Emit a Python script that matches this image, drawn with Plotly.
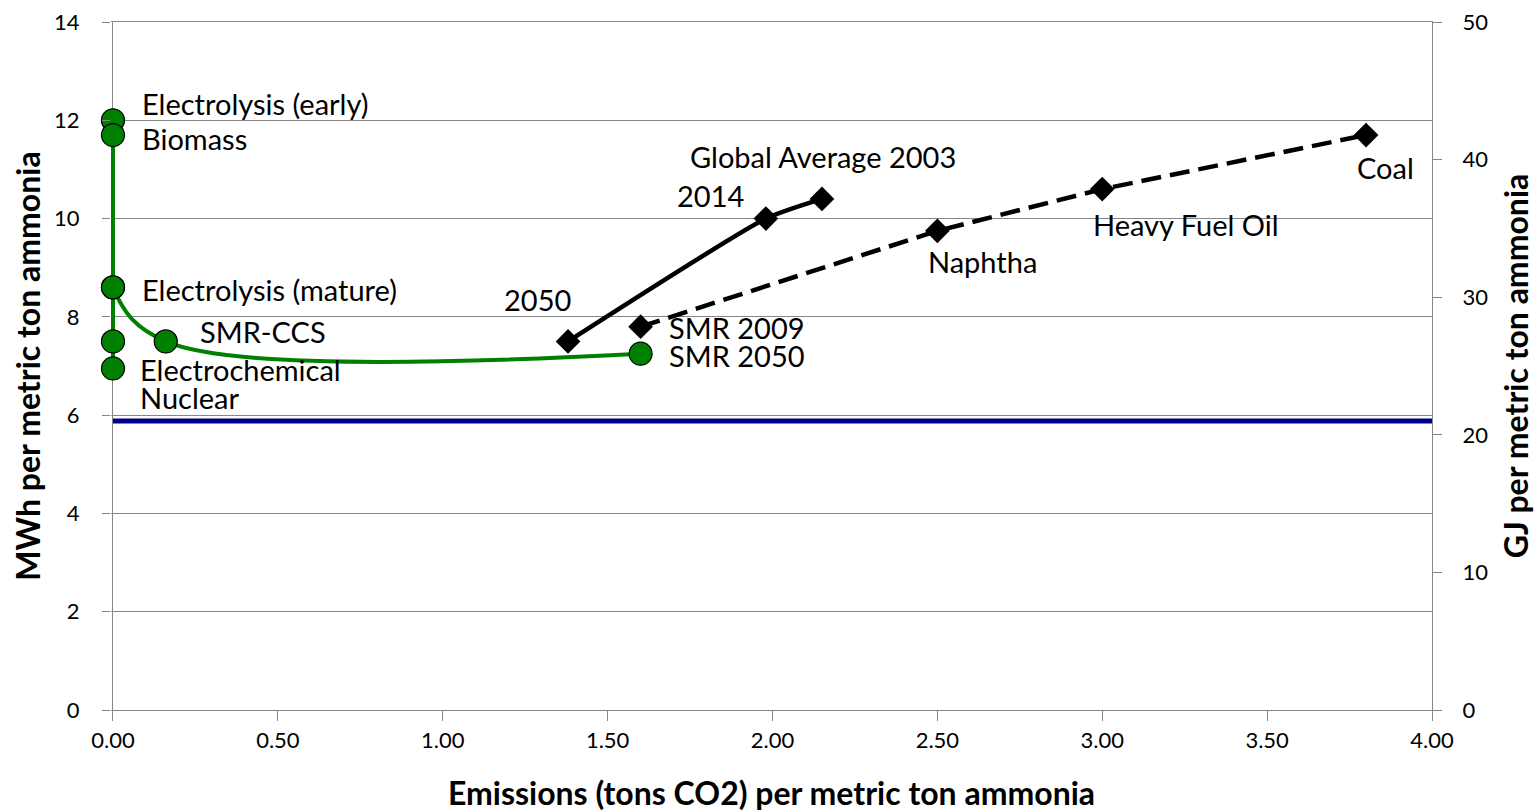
import plotly.graph_objects as go

FONT = "Lato"

# Green series (low-carbon routes), smoothed curve
green_x = [0.0, 0.0, 0.0, 0.16, 1.60]
green_y = [12.0, 11.7, 8.6, 7.5, 7.25]
green_labels = ["Electrolysis (early)", "Biomass", "Electrolysis (mature)", "SMR-CCS", "SMR 2050"]
# Green series at zero emissions, straight segments
zero_x = [0.0, 0.0, 0.0]
zero_y = [8.6, 7.5, 6.95]
zero_labels = ["", "Electrochemical", "Nuclear"]

# Black solid series (global average over time)
avg_x = [1.38, 1.98, 2.15]
avg_y = [7.5, 10.0, 10.4]
avg_labels = ["2050", "2014", "Global Average 2003"]

# Black dashed series (by feedstock)
feed_x = [1.60, 2.50, 3.00, 3.80]
feed_y = [7.8, 9.75, 10.6, 11.7]
feed_labels = ["SMR 2009", "Naphtha", "Heavy Fuel Oil", "Coal"]

# Theoretical minimum (GJ per ton)
min_x = [0.0, 4.0]
min_gj = [21.0, 21.0]

x_ticks = [0, 0.5, 1.0, 1.5, 2.0, 2.5, 3.0, 3.5, 4.0]
y_ticks = [0, 2, 4, 6, 8, 10, 12, 14]
y2_ticks = [0, 10, 20, 30, 40, 50]

GREEN = "#008000"
AXIS = "#868686"
fig = go.Figure()

fig.add_trace(go.Scatter(x=min_x, y=min_gj, yaxis="y2", mode="lines",
                         line=dict(color="#000090", width=5), hoverinfo="skip"))
# smoothed green curve (line only)
fig.add_trace(go.Scatter(x=green_x[1:], y=green_y[1:], mode="lines",
                         line=dict(color=GREEN, width=4, shape="spline", smoothing=1.0)))
# straight part of the green curve along zero emissions
fig.add_trace(go.Scatter(x=green_x[:3], y=green_y[:3], mode="lines",
                         line=dict(color=GREEN, width=4)))
fig.add_trace(go.Scatter(x=zero_x, y=zero_y, mode="lines+markers", cliponaxis=False,
                         line=dict(color=GREEN, width=4),
                         marker=dict(symbol="circle", size=23, color=GREEN,
                                     line=dict(color="#000000", width=1.2))))
fig.add_trace(go.Scatter(x=green_x, y=green_y, mode="markers", cliponaxis=False,
                         marker=dict(symbol="circle", size=23, color=GREEN,
                                     line=dict(color="#000000", width=1.2))))
fig.add_trace(go.Scatter(x=feed_x, y=feed_y, mode="lines+markers", cliponaxis=False,
                         line=dict(color="#000000", width=4.5, dash="20px,9px"),
                         marker=dict(symbol="diamond", size=19, color="#000000")))
fig.add_trace(go.Scatter(x=avg_x, y=avg_y, mode="lines+markers", cliponaxis=False,
                         line=dict(color="#000000", width=4.5, shape="spline", smoothing=0.55),
                         marker=dict(symbol="diamond", size=19, color="#000000")))

# label offsets (pixels): (xanchor, xshift, yshift)
offsets = {
    "Electrolysis (early)": ("left", 27, 17),
    "Biomass": ("left", 27, -3),
    "Electrolysis (mature)": ("left", 27, -2),
    "SMR-CCS": ("left", 32, 10),
    "SMR 2050": ("left", 26, -2),
    "Electrochemical": ("left", 25, -28),
    "Nuclear": ("left", 25, -29),
    "2050": ("right", 5, 42),
    "2014": ("right", -20, 23),
    "Global Average 2003": ("center", 1, 42),
    "SMR 2009": ("left", 26, -1),
    "Naphtha": ("left", -11, -31),
    "Heavy Fuel Oil": ("left", -11, -35),
    "Coal": ("left", -11, -32),
}

annotations = []
for xs, ys, labs in [(green_x, green_y, green_labels),
                     (zero_x, zero_y, zero_labels),
                     (avg_x, avg_y, avg_labels),
                     (feed_x, feed_y, feed_labels)]:
    for x, y, lab in zip(xs, ys, labs):
        if not lab:
            continue
        xa, dx, dy = offsets[lab]
        annotations.append(dict(x=x, y=y, xref="x", yref="y", text=lab, showarrow=False,
                                xanchor=xa, yanchor="middle", xshift=dx, yshift=dy,
                                font=dict(family=FONT, size=29, color="#000000")))

fig.update_layout(
    width=1537, height=812,
    margin=dict(l=111, r=105, t=22, b=102),
    paper_bgcolor="white", plot_bgcolor="white",
    showlegend=False,
    font=dict(family=FONT, size=22, color="#000000"),
    annotations=annotations,
    xaxis=dict(range=[-0.006, 4], tickvals=x_ticks, ticktext=[f"{v:.2f}" for v in x_ticks],
               showgrid=False, zeroline=True, zerolinecolor=AXIS, zerolinewidth=1.3,
               showline=True, linecolor=AXIS, linewidth=1.3, mirror=True,
               ticks="outside", ticklen=10, tickcolor=AXIS, automargin=False,
               tickfont=dict(family=FONT, size=22),
               title=dict(text="<b>Emissions (tons CO2) per metric ton ammonia</b>",
                          font=dict(family=FONT, size=32), standoff=47)),
    yaxis=dict(range=[0, 14], tickvals=y_ticks, showgrid=True, gridcolor=AXIS, gridwidth=1.3,
               zeroline=False, showline=False, automargin=False,
               ticks="outside", ticklen=8, tickcolor=AXIS,
               ticklabelstandoff=18, ticklabeloverflow="allow",
               tickfont=dict(family=FONT, size=22),
               title=dict(text="<b>MWh per metric ton ammonia</b>",
                          font=dict(family=FONT, size=32), standoff=3)),
    yaxis2=dict(range=[0, 50], tickvals=y2_ticks, overlaying="y", side="right",
                showgrid=False, zeroline=False, showline=True, linecolor=AXIS, linewidth=1.3,
                ticks="outside", ticklen=9, tickcolor=AXIS, automargin=False,
                ticklabelstandoff=16, ticklabeloverflow="allow",
                tickfont=dict(family=FONT, size=22),
                title=dict(text="<b>GJ per metric ton ammonia</b>",
                           font=dict(family=FONT, size=32), standoff=18)),
)

# remove the page's default body margin so the 1537x812 figure fills the window exactly
fig.write_html("out.html", config={"displayModeBar": False},
               post_script="document.body.style.margin='0';")
